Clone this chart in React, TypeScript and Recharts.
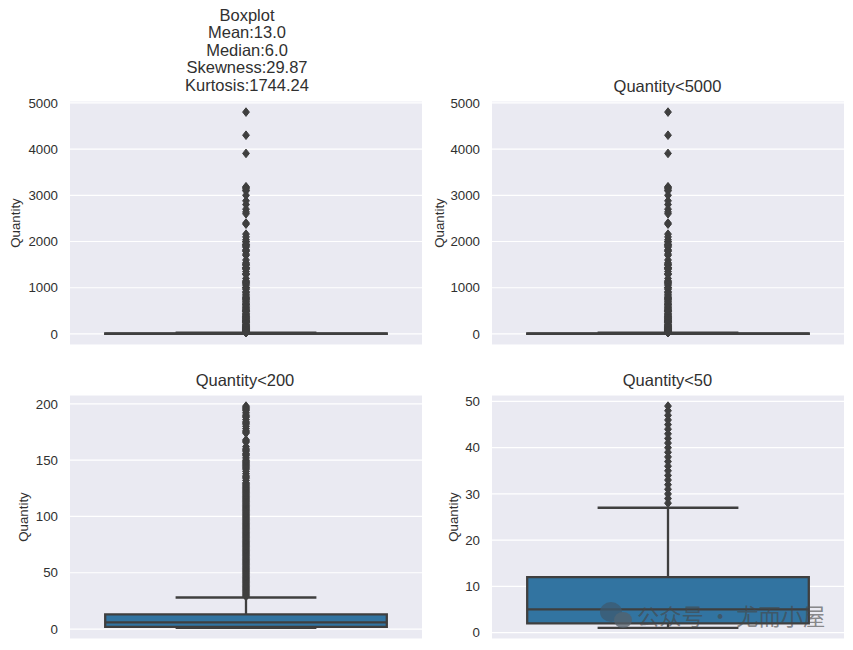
import { ScatterChart, Scatter, XAxis, YAxis, CartesianGrid, ReferenceArea, ReferenceLine, Label } from "recharts"

// outliers, top to bottom
const fullOutliers = [
  4800, 4300, 3906, 3186, 3168, 3150, 3114, 3096, 3000, 2880, 2800, 2700, 2640, 2600, 2400, 2376,
  2160, 2100, 2040, 2000, 1992, 1944, 1930, 1920, 1900, 1878, 1824, 1800, 1788, 1728, 1700, 1600,
  1540, 1515, 1500, 1488, 1440, 1431, 1428, 1412, 1400, 1350, 1300, 1296, 1284, 1200, 1152, 1128,
  1120, 1100, 1080, 1056, 1010, 1000, 992, 960, 912, 900, 864, 840, 800, 792, 768, 756, 750, 720,
  700, 672, 648, 640, 624, 600, 576, 560, 540, 528, 504, 500, 492, 480, 450, 432, 420, 400, 384,
  378, 360, 350, 336, 324, 320, 300, 288, 280, 276, 270, 256, 250, 240, 216, 200, 192, 180, 168,
  160, 150, 144, 130, 125, 120, 108, 100, 96, 90, 80, 75, 72, 64, 60, 50, 48, 40, 36, 32, 30, 28,
]
const under200Outliers = [
  198, 197, 196, 195, 194, 192, 190, 189, 188, 186, 184, 183, 182, 180, 178, 176, 175, 174, 168, 167,
  166, 162, 160, 159, 158, 156, 155, 154, 152, 150, 149, 148, 147, 146, 145, 144, 143, 142, 140, 138,
  136, 135, 134, 132, 130, 129, 128, 127, 126, 125, 124, 123, 122, 121, 120, 119, 118, 117, 116, 115,
  114, 113, 112, 111, 110, 109, 108, 107, 106, 105, 104, 103, 102, 101, 100, 99, 98, 97, 96, 95, 94,
  93, 92, 91, 90, 89, 88, 87, 86, 85, 84, 83, 82, 81, 80, 79, 78, 77, 76, 75, 74, 73, 72, 71, 70, 69,
  68, 67, 66, 65, 64, 63, 62, 61, 60, 59, 58, 57, 56, 55, 54, 53, 52, 51, 50, 49, 48, 47, 46, 45, 44,
  43, 42, 41, 40, 39, 38, 37, 36, 35, 34, 33, 32, 31, 30, 29,
]
const under50Outliers = [
  49, 48, 47, 46, 45, 44, 43, 42, 41, 40, 39, 38, 37, 36, 35, 34, 33, 32, 31, 30, 29, 28,
]

const fullTicks = [0, 1000, 2000, 3000, 4000, 5000]
const under200Ticks = [0, 50, 100, 150, 200]
const under50Ticks = [0, 10, 20, 30, 40, 50]

// low whisker, q1, median, q3, high whisker
const fullBox = [1, 2, 6, 12, 27]
const under200Box = [1, 2, 6, 13, 28]
const under50Box = [1, 2, 5, 12, 27]

const DARK = "#3f3f3f"
const TEXT = "#303030"
const LINE = 2.3

const Diamond = (props: any) => {
  const { cx, cy } = props
  return (
    <polygon
      points={`${cx},${cy - 4.3} ${cx + 3.4},${cy} ${cx},${cy + 4.3} ${cx - 3.4},${cy}`}
      fill={DARK}
      stroke={DARK}
      strokeWidth={1}
      strokeLinejoin="round"
    />
  )
}

function BoxPanel({ left, top, box, outliers, ticks, domain, labelOffset }: any) {
  const points = outliers.map((v: number) => ({ x: 0, y: v }))
  const [low, q1, median, q3, high] = box

  return (
    <div style={{ position: "absolute", left, top }}>
      <ScatterChart width={70 + 352} height={254} margin={{ top: 5, right: 0, bottom: 5, left: 0 }}>
        <CartesianGrid vertical={false} stroke="#ffffff" strokeWidth={1.2} fill="#eaeaf2" />
        <XAxis type="number" dataKey="x" domain={[-0.5, 0.5]} hide />
        <YAxis
          type="number"
          dataKey="y"
          width={70}
          domain={domain}
          ticks={ticks}
          interval={0}
          allowDataOverflow
          axisLine={false}
          tickLine={false}
          tickSize={0}
          tickMargin={12}
          tick={{ fill: TEXT, fontSize: 13.3, fontFamily: "Liberation Sans" }}
        >
          <Label
            value="Quantity"
            angle={-90}
            position="center"
            dx={labelOffset}
            style={{ fill: TEXT, fontSize: 13.3, fontFamily: "Liberation Sans" }}
          />
        </YAxis>
        <ReferenceLine segment={[{ x: 0, y: q3 }, { x: 0, y: high }]} stroke={DARK} strokeWidth={LINE} />
        <ReferenceLine segment={[{ x: 0, y: q1 }, { x: 0, y: low }]} stroke={DARK} strokeWidth={LINE} />
        <ReferenceLine segment={[{ x: -0.2, y: high }, { x: 0.2, y: high }]} stroke={DARK} strokeWidth={LINE} />
        <ReferenceLine segment={[{ x: -0.2, y: low }, { x: 0.2, y: low }]} stroke={DARK} strokeWidth={LINE} />
        <ReferenceArea x1={-0.4} x2={0.4} y1={q1} y2={q3} fill="#3274a1" fillOpacity={1} stroke={DARK} strokeWidth={LINE} />
        <ReferenceLine segment={[{ x: -0.4, y: median }, { x: 0.4, y: median }]} stroke={DARK} strokeWidth={LINE} />
        <Scatter data={points} dataKey="y" shape={Diamond} isAnimationActive={false} />
      </ScatterChart>
    </div>
  )
}

function Title({ x, top, lines }: any) {
  return (
    <div
      style={{
        position: "absolute",
        left: x - 150,
        top,
        width: 300,
        textAlign: "center",
        fontFamily: "Liberation Sans",
        fontSize: 16.5,
        lineHeight: "17.4px",
        color: TEXT,
      }}
    >
      {lines.map((l: string) => (
        <div key={l}>{l}</div>
      ))}
    </div>
  )
}

export default function App() {
  return (
    <div style={{ position: "absolute", left: 0, top: 0, width: 853, height: 650, background: "#fff", overflow: "hidden" }}>
      <Title x={247} top={7} lines={["Boxplot", "Mean:13.0", "Median:6.0", "Skewness:29.87", "Kurtosis:1744.24"]} />
      <Title x={667.5} top={78} lines={["Quantity<5000"]} />
      <Title x={245} top={372} lines={["Quantity<200"]} />
      <Title x={667.5} top={372} lines={["Quantity<50"]} />

      <BoxPanel left={0} top={96} box={fullBox} outliers={fullOutliers} ticks={fullTicks} domain={[-239, 5040]} labelOffset={-20} />
      <BoxPanel left={422} top={96} box={fullBox} outliers={fullOutliers} ticks={fullTicks} domain={[-239, 5040]} labelOffset={-18} />
      <BoxPanel left={0} top={390} box={under200Box} outliers={under200Outliers} ticks={under200Ticks} domain={[-8.85, 207.85]} labelOffset={-12} />
      <BoxPanel left={422} top={390} box={under50Box} outliers={under50Outliers} ticks={under50Ticks} domain={[-1.4, 51.4]} labelOffset={-4} />

      {/* watermark */}
      <svg width={36} height={30} style={{ position: "absolute", left: 599, top: 601, opacity: 0.75 }}>
        <ellipse cx={12} cy={11} rx={11} ry={10} fill="#3d5a70" />
        <ellipse cx={24} cy={19} rx={9} ry={8} fill="#55606a" />
      </svg>
      <div
        style={{
          position: "absolute",
          left: 637,
          top: 600,
          fontFamily: "Noto Sans CJK SC",
          fontSize: 22.3,
          lineHeight: "30px",
          whiteSpace: "nowrap",
          color: "rgba(70,70,70,0.62)",
        }}
      >
        公众号 · 尤而小屋
      </div>
    </div>
  )
}
